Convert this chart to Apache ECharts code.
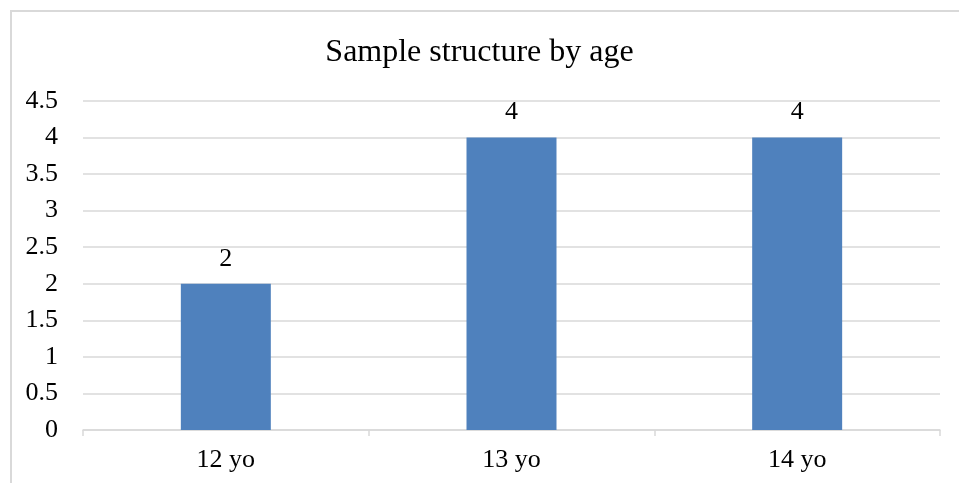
<!DOCTYPE html>
<html><head><meta charset="utf-8">
<script src="https://cdn.jsdelivr.net/npm/echarts@6/dist/echarts.min.js"></script>
<style>
html,body{margin:0;padding:0;background:#fff;}
#frame{position:absolute;left:10px;top:10px;width:1000px;height:1000px;border-left:2px solid #d9d9d9;border-top:2px solid #d9d9d9;box-sizing:border-box;}
#c{position:absolute;left:0;top:0;width:959px;height:483px;}
</style></head>
<body>
<div id="frame"></div>
<div id="c"></div>
<script>
const categories = ['12 yo', '13 yo', '14 yo'];
const values = [2, 4, 4];
const title = 'Sample structure by age';

const chart = echarts.init(document.getElementById('c'), null, {renderer: 'canvas'});
const font = '"Liberation Serif", "Times New Roman", serif';
chart.setOption({
  backgroundColor: 'transparent',
  animation: false,
  title: {
    text: title, left: 'center', top: 32,
    textStyle: {fontFamily: font, fontSize: 32, fontWeight: 'normal', color: '#000'}
  },
  grid: {left: 83, right: 19, top: 101, bottom: 53, containLabel: false},
  xAxis: {
    type: 'category', data: categories,
    axisLine: {show: true, lineStyle: {color: '#d9d9d9', width: 1.5}},
    axisTick: {show: true, alignWithLabel: false, length: 6, lineStyle: {color: '#d9d9d9', width: 1.5}},
    axisLabel: {fontFamily: font, fontSize: 26, color: '#000', margin: 17}
  },
  yAxis: {
    type: 'value', min: 0, max: 4.5, interval: 0.5,
    axisLine: {show: false}, axisTick: {show: false},
    splitLine: {lineStyle: {color: '#d9d9d9', width: 1.5}},
    axisLabel: {fontFamily: font, fontSize: 26, color: '#000', margin: 25}
  },
  series: [{
    type: 'bar', data: values, barWidth: '31.5%',
    itemStyle: {color: '#4f81bd'},
    label: {show: true, position: 'top', distance: 12, fontFamily: font, fontSize: 26, color: '#000'}
  }]
});
</script>
</body></html>
